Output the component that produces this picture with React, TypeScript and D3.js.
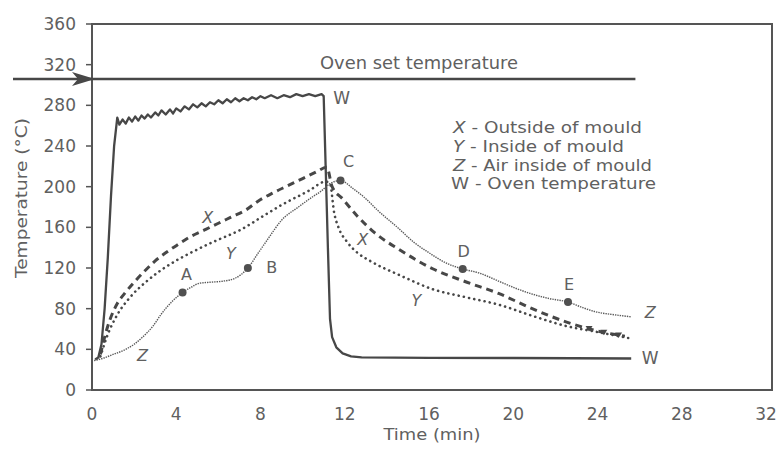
import React from 'react';
import * as d3 from 'd3';

// Oven temperature (W)
const W_TIME = [0.15, 0.3, 0.45, 0.6, 0.75, 0.9, 1.05, 1.2, 1.3, 1.45, 1.6, 1.75, 1.9, 2.05, 2.2, 2.35, 2.5, 2.65, 2.8, 3.0, 3.15, 3.3, 3.5, 3.7, 3.85, 4.0, 4.2, 4.4, 4.6, 4.8, 5.0, 5.2, 5.4, 5.6, 5.8, 6.0, 6.2, 6.4, 6.6, 6.8, 7.0, 7.2, 7.4, 7.6, 7.8, 8.0, 8.2, 8.5, 8.8, 9.1, 9.4, 9.7, 10.0, 10.3, 10.6, 10.9, 11.0, 11.1, 11.2, 11.3, 11.4, 11.6, 11.9, 12.3, 12.8, 16, 20, 25.6];
const W_TEMP = [30, 32, 45, 80, 130, 190, 240, 268, 261, 266, 262, 268, 264, 269, 265, 270, 267, 271, 268, 273, 270, 275, 271, 276, 272, 277, 274, 279, 276, 281, 278, 282, 279, 283, 281, 285, 282, 286, 283, 287, 284, 287, 285, 288, 286, 289, 287, 290, 287, 290, 288, 291, 289, 291, 289, 291, 289, 215, 140, 70, 52, 42, 36, 33, 32, 31.5, 31.5, 31];

// Outside of mould (X)
const X_TIME = [0.4, 0.6, 0.85, 1.2, 1.55, 2.0, 2.5, 3.0, 3.5, 4.0, 4.6, 5.4, 6.0, 6.6, 7.3, 7.9, 8.6, 9.3, 10.0, 10.6, 11.15, 11.4, 11.9, 12.6, 13.4, 14.6, 16.2, 17.8, 19.3, 20.9, 22.5, 24.0, 25.3];
const X_TEMP = [35, 52, 69, 85, 95, 106, 117, 127, 135, 142, 150, 158, 164, 170, 177, 186, 194, 201, 208, 214, 219, 200, 188, 171, 155, 138, 119, 106, 95, 80, 67, 58, 53];

// Inside of mould (Y)
const Y_TIME = [0.4, 0.7, 1.2, 1.8, 2.6, 3.5, 4.6, 5.9, 7.0, 8.2, 9.0, 10.3, 11.1, 11.3, 11.5, 11.7, 12.1, 12.6, 13.2, 14.6, 16.2, 17.8, 19.3, 20.9, 22.5, 24.0, 25.5];
const Y_TEMP = [33, 52, 74, 91, 107, 121, 134, 147, 157, 172, 182, 196, 205, 203, 174, 160, 146, 135, 127, 113, 99, 91, 84, 73, 63, 57, 51];

// Air inside of mould (Z)
const Z_TIME = [0.1, 0.5, 1.0, 1.5, 2.0, 2.4, 2.9, 3.3, 3.8, 4.3, 4.7, 5.1, 5.6, 6.2, 6.8, 7.4, 7.9, 8.4, 9.0, 9.8, 10.4, 10.9, 11.3, 11.8, 12.4, 12.9, 13.6, 14.5, 15.3, 16.0, 16.8, 17.6, 18.4, 19.2, 20.0, 20.8, 21.7, 22.6, 23.3, 23.9, 24.8, 25.6];
const Z_TEMP = [29, 31, 35, 39, 45, 52, 63, 75, 87, 96, 101, 105, 106, 107, 110, 120, 135, 150, 167, 180, 189, 196, 203, 206, 198, 190, 176, 160, 145, 135, 125, 119, 115, 108, 101, 95, 90, 86.5, 81, 77, 74, 72];

// Labelled points on the Z curve
const MARK_LABELS = ['A', 'B', 'C', 'D', 'E'];
const MARK_TIMES = [4.3, 7.4, 11.8, 17.6, 22.6];

// Triangle markers near the end of the X curve
const X_END_MARKS = [23.6, 24.3, 25.0];

const SET_TEMP = 306;
const SET_END = 25.8;

const Y_TICKS = [0, 40, 80, 120, 160, 200, 240, 280, 320, 360];
const X_TICKS = [0, 4, 8, 12, 16, 20, 24, 28, 32];

const LEGEND_KEYS = ['X', 'Y', 'Z', 'W'];
const LEGEND_TEXT = [' - Outside of mould', ' - Inside of mould', ' - Air inside of mould', ' - Oven temperature'];

// Curve name labels (time, temperature)
const CURVE_LABEL_TEXT = ['X', 'Y', 'Z', 'X', 'Y', 'Z', 'W', 'W'];
const CURVE_LABEL_T = [5.5, 6.6, 2.4, 12.85, 15.4, 26.5, 11.85, 26.5];
const CURVE_LABEL_V = [170, 135, 34, 148, 88.5, 76, 287, 31.5];

const INK = '#474747';
const TEXT = '#606060';
const FONT = 'DejaVu Sans, Liberation Sans, sans-serif';

export default function App() {
  const x = d3.scaleLinear().domain([0, 32]).range([92, 766]);
  const y = d3.scaleLinear().domain([0, 360]).range([390, 24]);

  const zip = (t: number[], v: number[]) => t.map((ti, i) => [ti, v[i]] as [number, number]);
  const smooth = d3.line<[number, number]>().x(d => x(d[0])).y(d => y(d[1])).curve(d3.curveMonotoneX);
  const jagged = d3.line<[number, number]>().x(d => x(d[0])).y(d => y(d[1]));

  const xAlong = d3.scaleLinear().domain(X_TIME).range(X_TEMP);
  const zAt = (t: number) => Z_TEMP[Z_TIME.indexOf(t)];

  const markOffsets: [number, number][] = [[4, -12], [24, 5], [8, -14], [1, -12], [1, -12]];

  const setY = y(SET_TEMP);
  const tipX = x(0) + 3;

  return (
    <svg width={780} height={452} style={{ position: 'absolute', left: 0, top: 0, background: '#fff' }} fontFamily={FONT}>
      {/* plot frame */}
      <rect x={x(0)} y={y(360)} width={x(32) - x(0) + 6} height={y(0) - y(360)} fill="none" stroke="#555" strokeWidth={2} />

      {/* y ticks and labels */}
      {Y_TICKS.map(v => (
        <g key={'yt' + v}>
          <line x1={x(0) - 6} x2={x(0)} y1={y(v)} y2={y(v)} stroke="#555" strokeWidth={1.5} />
          <text x={76} y={y(v)} dy="0.36em" textAnchor="end" fontSize={17} fill={TEXT}>{v}</text>
        </g>
      ))}
      {X_TICKS.map(t => (
        <text key={'xt' + t} x={x(t)} y={420} textAnchor="middle" fontSize={17} fill={TEXT}>{t}</text>
      ))}

      <text transform={`translate(21,198) rotate(-90)`} textAnchor="middle" dominantBaseline="central" fontSize={16} fill={TEXT} textLength={160} lengthAdjust="spacingAndGlyphs">Temperature (°C)</text>
      <text x={432} y={440} textAnchor="middle" fontSize={16} fill={TEXT} textLength={97} lengthAdjust="spacingAndGlyphs">Time (min)</text>

      {/* oven set temperature */}
      <line x1={13} x2={x(SET_END)} y1={setY} y2={setY} stroke={INK} strokeWidth={2.5} />
      <path d={`M${tipX},${setY} L${tipX - 23},${setY - 7} L${tipX - 17},${setY} L${tipX - 23},${setY + 7} Z`} fill={INK} />
      <text x={320} y={69} fontSize={18} fill={TEXT} textLength={198} lengthAdjust="spacingAndGlyphs">Oven set temperature</text>

      {/* legend */}
      {LEGEND_KEYS.map((k, i) => (
        <text key={'lg' + k} x={k === 'W' ? 451 : 453} y={133 + i * 18.8} fontSize={16} fill={TEXT}
          textLength={[189, 171, 199, 205][i]} lengthAdjust="spacingAndGlyphs">
          <tspan fontStyle={k === 'W' ? 'normal' : 'italic'}>{k}</tspan>{LEGEND_TEXT[i]}
        </text>
      ))}

      {/* curves */}
      <path d={jagged(zip(W_TIME, W_TEMP)) || ''} fill="none" stroke={INK} strokeWidth={2.3} strokeLinejoin="round" />
      <path d={smooth(zip(X_TIME, X_TEMP)) || ''} fill="none" stroke={INK} strokeWidth={3} strokeDasharray="7 5" />
      <path d={smooth(zip(Y_TIME, Y_TEMP)) || ''} fill="none" stroke={INK} strokeWidth={2.6} strokeDasharray="0.1 5.2" strokeLinecap="round" />
      <path d={smooth(zip(Z_TIME, Z_TEMP)) || ''} fill="none" stroke="#5a5a5a" strokeWidth={1.4} strokeDasharray="1.4 1" />

      {X_END_MARKS.map(t => {
        const px = x(t), py = y(xAlong(t));
        return <path key={'tr' + t} d={`M${px - 3.5},${py - 2.5} L${px + 3.5},${py - 2.5} L${px},${py + 3} Z`} fill={INK} />;
      })}

      {/* labelled points on Z */}
      {MARK_TIMES.map((t, i) => {
        const px = x(t), py = y(zAt(t));
        return (
          <g key={'mk' + i}>
            <circle cx={px} cy={py} r={4} fill="#505050" />
            <text x={px + markOffsets[i][0]} y={py + markOffsets[i][1]} textAnchor="middle" fontSize={16} fill={TEXT}>{MARK_LABELS[i]}</text>
          </g>
        );
      })}

      {/* curve name labels */}
      {CURVE_LABEL_TEXT.map((s, i) => (
        <text key={'cl' + i} x={x(CURVE_LABEL_T[i])} y={y(CURVE_LABEL_V[i])} dy="0.36em" textAnchor="middle"
          fontSize={s === 'W' ? 17 : 16} fontStyle={s === 'W' ? 'normal' : 'italic'} fill={TEXT}>{s}</text>
      ))}
    </svg>
  );
}
